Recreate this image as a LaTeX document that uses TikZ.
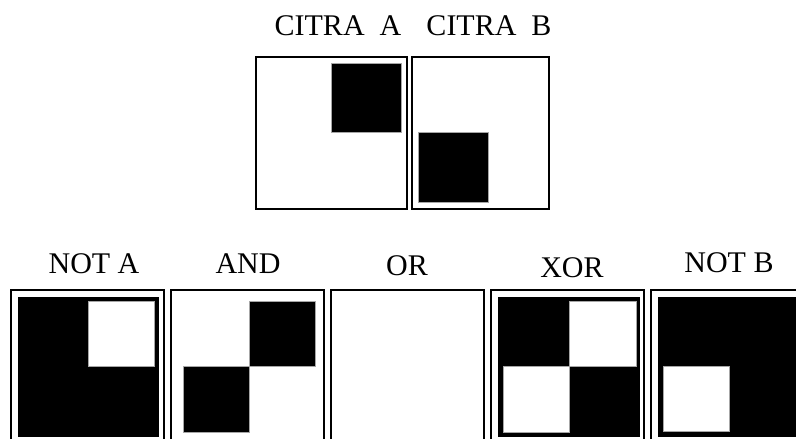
\documentclass[tikz,border=0pt]{standalone}
\usepackage{fontspec}
\setmainfont{Liberation Serif}
\tikzset{
  frame/.style={draw=black, line width=2pt, fill=white},
  blkbg/.style={fill=black},
  wsq/.style={fill=white, draw=gray!70, line width=0.8pt},
  bsq/.style={fill=black, draw=gray!70, line width=0.8pt},
  lbl/.style={font=\fontsize{30}{36}\selectfont, anchor=base, inner sep=0pt}
}
\begin{document}
\begin{tikzpicture}[x=1pt,y=-1pt]
\useasboundingbox (0,0) rectangle (796,439);
\clip (0,0) rectangle (796,439);
\fill[white] (0,0) rectangle (796,439);
% top labels
\node[lbl] (la) at (338,35) {CITRA\ \ A};
\node[lbl] (lb) at (489,35) {CITRA\ \ B};
% citra A
\draw[frame] (256,57) rectangle (407,209);
\draw[bsq] (331,63) rectangle (401,132);
% citra B
\draw[frame] (412,57) rectangle (549,209);
\draw[bsq] (418,132) rectangle (488,202);
% bottom labels
\node[lbl] (lnota) at (94,273) {NOT A};
\node[lbl] (land) at (248,273) {AND};
\node[lbl] (lor) at (407,275) {OR};
\node[lbl] (lxor) at (572,277) {XOR};
\node[lbl] (lnotb) at (729,272) {NOT B};
% NOT A
\draw[frame] (11,290) rectangle (164,445);
\fill[blkbg] (18,297) rectangle (159,437);
\draw[wsq] (88,301) rectangle (154,366);
% AND
\draw[frame] (171,290) rectangle (324,445);
\draw[bsq] (249,301) rectangle (315,366);
\draw[bsq] (183,366) rectangle (249,432);
% OR
\draw[frame] (331,290) rectangle (484,445);
% XOR
\draw[frame] (491,290) rectangle (644,445);
\fill[blkbg] (498,297) rectangle (640,437);
\draw[wsq] (569,301) rectangle (636,366);
\draw[wsq] (503,366) rectangle (569,432);
% NOT B
\draw[frame] (651,290) rectangle (804,445);
\fill[blkbg] (658,297) rectangle (800,437);
\draw[wsq] (663,366) rectangle (729,431);
\end{tikzpicture}
\end{document}
